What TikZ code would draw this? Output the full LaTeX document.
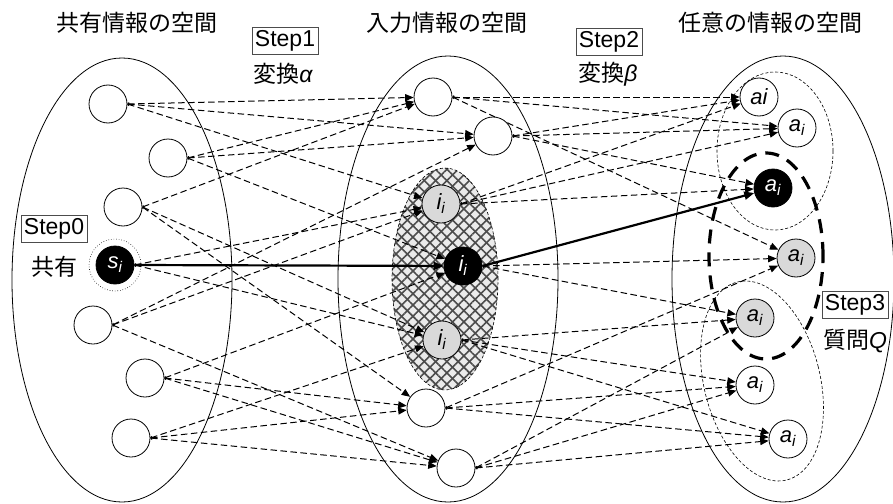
\documentclass[tikz,border=0pt]{standalone}
\usepackage{fontspec}
\setmainfont{Liberation Sans}
\newfontfamily\jpfont{Noto Sans CJK JP}
\usetikzlibrary{arrows.meta,patterns.meta}
\pgfdeclarelayer{back}
\pgfdeclarelayer{links}
\pgfsetlayers{back,links,main}
\newcommand\gk[1]{{\normalfont\itshape #1}}
\newcommand\ssub[2]{#1\textsubscript{#2}}
\begin{document}
\begin{tikzpicture}[x=1pt,y=-1pt,
  nd/.style={circle,draw,line width=0.8pt,minimum size=38pt,inner sep=0pt,fill=white,
    font=\fontsize{22}{24}\selectfont\itshape},
  gnd/.style={nd,fill=black!15},
  bnd/.style={nd,fill=black,text=white},
  link/.style={line width=1pt,dash pattern=on 6.5pt off 3.5pt,
    arrows={Straight Barb[length=1.2pt,width=3pt,line width=0.6pt]-Triangle[length=8.5pt,width=7pt]}},
  mainarrow/.style={line width=2.2pt,-{Triangle[length=10pt,width=8pt]}},
  stepbox/.style={draw=black!70,line width=0.8pt,fill=white,inner sep=3pt,
    font=\fontsize{23}{23}\selectfont},
  lbl/.style={font=\fontsize{23}{27}\selectfont\jpfont,inner sep=0pt},
  space/.style={line width=0.8pt}
]
\useasboundingbox (0,0) rectangle (893,503);
\begin{pgfonlayer}{back}
  \fill[white] (0,0) rectangle (893,503);
  \draw[space] (122,280) ellipse [x radius=110pt,y radius=222pt];
  \draw[space] (448,279) ellipse [x radius=110pt,y radius=223pt];
  \draw[space] (783,279) ellipse [x radius=111pt,y radius=223pt];
  % hatched region
  \fill[black!8] (445,279) ellipse [x radius=53pt,y radius=111pt];
  \fill[pattern={Lines[angle=45,distance=8pt,line width=1.6pt]},pattern color=black!70]
    (445,279) ellipse [x radius=53pt,y radius=111pt];
  \fill[pattern={Lines[angle=-45,distance=8pt,line width=1.6pt]},pattern color=black!70]
    (445,279) ellipse [x radius=53pt,y radius=111pt];
  \draw[line width=0.6pt,dash pattern=on 3pt off 2pt] (445,279) ellipse [x radius=53pt,y radius=111pt];
  % dotted groups on the right
  \draw[line width=0.6pt,dash pattern=on 3pt off 2pt] (775,151) ellipse [x radius=58pt,y radius=79pt];
  \draw[line width=0.6pt,dash pattern=on 3pt off 2pt,rotate around={14:(762,381)}]
    (762,381) ellipse [x radius=58pt,y radius=102pt];
\end{pgfonlayer}

% left nodes
\node[nd] (L1) at (108,104) {};
\node[nd] (L2) at (168,158) {};
\node[nd] (L3) at (123,207) {};
\node[bnd] (L4) at (115,265) {\ssub{s}{i}};
\node[nd] (L5) at (93,325) {};
\node[nd] (L6) at (145,378) {};
\node[nd] (L7) at (131,438) {};
\draw[line width=0.6pt,dotted] (L4) circle (26pt);
% middle nodes
\node[nd] (M1) at (433,97) {};
\node[nd] (M2) at (493,136) {};
\node[gnd] (M3) at (441,204) {\ssub{i}{i}};
\node[bnd] (M4) at (463,266) {\ssub{i}{i}};
\node[gnd] (M5) at (442,340) {\ssub{i}{i}};
\node[nd] (M6) at (426,408) {};
\node[nd] (M7) at (456,468) {};
% right nodes
\node[nd] (R1) at (759,97) {ai};
\node[nd] (R2) at (797,128) {\ssub{a}{i}};
\node[bnd] (R3) at (773,188) {\ssub{a}{i}};
\node[gnd] (R4) at (796,258) {\ssub{a}{i}};
\node[gnd] (R5) at (755,318) {\ssub{a}{i}};
\node[nd] (R6) at (755,385) {\ssub{a}{i}};
\node[nd] (R7) at (788,439) {\ssub{a}{i}};

\begin{pgfonlayer}{links}
  \foreach \s/\t in {L1/M1,L1/M2,L1/M3,L2/M1,L2/M2,L2/M4,L3/M1,L3/M5,L3/M6,
                     L4/M3,L4/M5,L5/M2,L5/M3,L5/M7,L6/M4,L6/M6,L6/M7,L7/M5,L7/M6,L7/M7,
                     M1/R1,M1/R2,M1/R4,M2/R1,M2/R2,M2/R3,M3/R1,M3/R2,M3/R3,
                     M4/R4,M4/R5,M5/R5,M5/R6,M5/R7,M6/R4,M6/R6,M6/R7,M7/R5,M7/R6,M7/R7}
    \draw[link] (\s.east) -- (\t);
  \draw[mainarrow] (L4.east) -- (M4);
  \draw[mainarrow] (M4.east) -- (R3);
\end{pgfonlayer}

% query region
\draw[line width=3.2pt,dash pattern=on 14pt off 9pt] (766,256) ellipse [x radius=57pt,y radius=103pt];

% titles and step labels
\node[lbl] (t1) at (137,23) {共有情報の空間};
\node[lbl] (t2) at (447,23) {入力情報の空間};
\node[lbl] (t3) at (770,23) {任意の情報の空間};
\node[stepbox] (s0) at (54,229) {Step0};
\node[lbl] (c0) at (54,267) {共有};
\node[stepbox] (s1) at (285,41) {Step1};
\node[lbl] (c1) at (283,74) {変換\gk{α}};
\node[stepbox] (s2) at (609,42) {Step2};
\node[lbl] (c2) at (608,74) {変換\gk{β}};
\node[stepbox] (s3) at (855,305) {Step3};
\node[lbl] (c3) at (855,341) {質問\gk{Q}};
\end{tikzpicture}
\end{document}
